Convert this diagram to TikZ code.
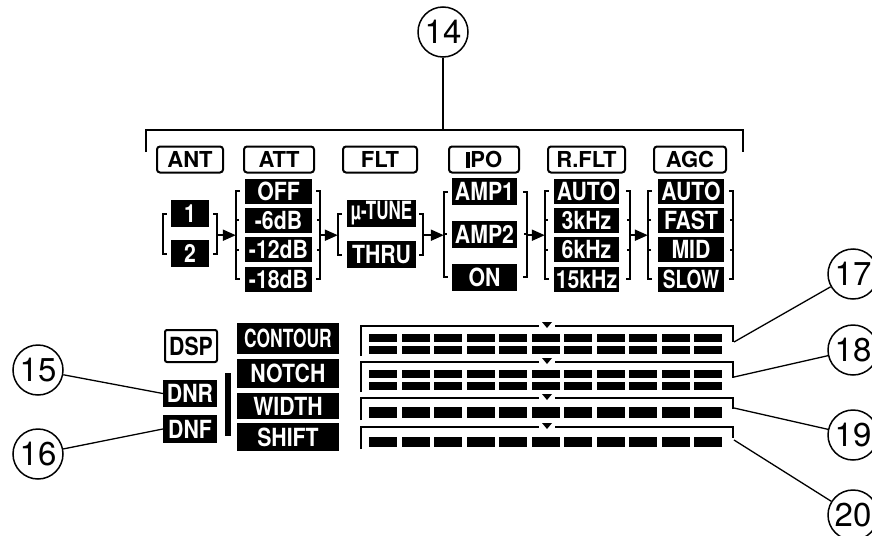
\documentclass[tikz,border=0pt]{standalone}
\usepackage{fontspec}
\usepackage{graphicx}
\newfontfamily\lcdfont[FakeStretch=0.85]{TeX Gyre Heros}
\newfontfamily\tagfont{TeX Gyre Heros}
\newcommand{\sqz}[2]{\scalebox{#1}[1]{#2}}
\usetikzlibrary{arrows.meta, positioning, calc}

\begin{document}
\begin{tikzpicture}[
  x=1pt, y=-1pt,
  lit/.style={fill=black, text=white, inner sep=0pt, minimum height=25pt,
              font=\lcdfont\bfseries\fontsize{25}{25}\selectfont},
  head/.style={draw, line width=2pt, rounded corners=3pt, inner sep=0pt,
               minimum height=26pt, font=\tagfont\bfseries\fontsize{22}{22}\selectfont},
  num/.style={draw, circle, line width=1.5pt, minimum size=50pt, inner sep=0pt,
              font=\tagfont\fontsize{33}{33}\selectfont},
  lead/.style={line width=1.3pt},
  brk/.style={line width=2pt},
  arr/.style={-{Triangle[length=13pt, width=11pt]}, line width=2pt}
]
\useasboundingbox (0,0) rectangle (872,535);

\node[num] (n14) at (443,32) {14};
\coordinate (g) at (443,130);
\coordinate (gl) at (146,152);
\coordinate (gr) at (743,152);
\draw[brk] (gl) |- (gr |- g) -- (gr);
\draw[lead] (n14) -- (g);

\node[head, minimum width=66pt] (ant) at (190,159.5) {ANT};
\node[head, minimum width=70pt] (att) at (279,159.5) {ATT};
\node[head, minimum width=74pt] (flt) at (380,159.5) {FLT};
\node[head, minimum width=70pt] (ipo) at (484,159.5) {\rule{4.5pt}{16pt}PO};
\node[head, minimum width=77pt] (rflt) at (586.5,159.5) {R.FLT};
\node[head, minimum width=72pt] (agc) at (690,159.5) {AGC};

\node[lit, minimum width=38pt, minimum height=27pt] (one) at (190,213.5) {1};
\node[lit, minimum width=38pt, minimum height=27pt, below=13pt of one] (two) {2};

\node[lit, minimum width=67pt] (off) at (278.5,191) {OFF};
\node[lit, minimum width=67pt, below=4pt of off] (m6) {-6dB};
\node[lit, minimum width=67pt, below=4pt of m6] (m12) {-12dB};
\node[lit, minimum width=67pt, below=4pt of m12] (m18) {-18dB};

\node[lit, minimum width=69pt, minimum height=27pt] (tune) at (381.5,213.5) {\sqz{0.8}{µ-TUNE}};
\node[lit, minimum width=69pt, minimum height=27pt, below=14pt of tune] (thru) {THRU};

\node[lit, minimum width=65pt, minimum height=27pt] (amp1) at (484.5,191.5) {AMP1};
\node[lit, minimum width=65pt, minimum height=27pt, below=15.5pt of amp1] (amp2) {AMP2};
\node[lit, minimum width=65pt, minimum height=27pt, below=15.5pt of amp2] (on) {ON};

\node[lit, minimum width=65pt] (rauto) at (586.5,191) {AUTO};
\node[lit, minimum width=65pt, below=4pt of rauto] (k3) {3kHz};
\node[lit, minimum width=65pt, below=4pt of k3] (k6) {6kHz};
\node[lit, minimum width=65pt, below=4pt of k6] (k15) {15kHz};

\node[lit, minimum width=66pt] (gauto) at (691,191) {AUTO};
\node[lit, minimum width=66pt, below=4pt of gauto] (fast) {FAST};
\node[lit, minimum width=66pt, below=4pt of fast] (mid) {MID};
\node[lit, minimum width=66pt, below=4pt of mid] (slow) {\sqz{0.9}{SLOW}};

\draw[brk] ([xshift=-4pt]one.west) -- ++(-4,0) |- ([xshift=-4pt]two.west);
\draw[brk] ([xshift=4pt]one.east) -- ++(4,0) |- ([xshift=4pt]two.east);
\draw[brk] ([xshift=-5pt]off.west) -- ++(-4,0) |- ([xshift=-5pt]m18.west)
  ([xshift=-9pt]m6.west) -- ++(3,0) ([xshift=-9pt]m12.west) -- ++(3,0);
\draw[brk] ([xshift=4pt]off.east) -- ++(4,0) |- ([xshift=4pt]m18.east)
  ([xshift=8pt]m6.east) -- ++(-3,0) ([xshift=8pt]m12.east) -- ++(-3,0);
\draw[brk] ([xshift=-5pt]tune.west) -- ++(-4,0) |- ([xshift=-5pt]thru.west);
\draw[brk] ([xshift=3pt]tune.east) -- ++(4,0) |- ([xshift=3pt]thru.east);
\draw[brk] ([xshift=-4pt]amp1.west) -- ++(-4,0) |- ([xshift=-4pt]on.west)
  ([xshift=-8pt]amp2.west) -- ++(3,0);
\draw[brk] ([xshift=6pt]amp1.east) -- ++(4,0) |- ([xshift=6pt]on.east)
  ([xshift=10pt]amp2.east) -- ++(-3,0);
\draw[brk] ([xshift=-5pt]rauto.west) -- ++(-4,0) |- ([xshift=-5pt]k15.west)
  ([xshift=-9pt]k3.west) -- ++(3,0) ([xshift=-9pt]k6.west) -- ++(3,0);
\draw[brk] ([xshift=7pt]rauto.east) -- ++(4,0) |- ([xshift=7pt]k15.east)
  ([xshift=11pt]k3.east) -- ++(-3,0) ([xshift=11pt]k6.east) -- ++(-3,0);
\draw[brk] ([xshift=-6pt]gauto.west) -- ++(-4,0) |- ([xshift=-6pt]slow.west)
  ([xshift=-10pt]fast.west) -- ++(3,0) ([xshift=-10pt]mid.west) -- ++(3,0);
\draw[brk] ([xshift=5pt]gauto.east) -- ++(4,0) |- ([xshift=5pt]slow.east)
  ([xshift=9pt]fast.east) -- ++(-3,0) ([xshift=9pt]mid.east) -- ++(-3,0);

\coordinate (antR) at ($(one.east)!.5!(two.east)+(8,1.5)$);
\coordinate (attL) at ($(off.west)+(-9,0)$);
\coordinate (attR) at ($(off.east)+(8,0)$);
\coordinate (fltL) at ($(tune.west)+(-9,0)$);
\coordinate (fltR) at ($(tune.east)+(7,0)$);
\coordinate (ipoL) at ($(amp1.west)+(-8,0)$);
\coordinate (ipoR) at ($(amp1.east)+(10,0)$);
\coordinate (rfltL) at ($(rauto.west)+(-9,0)$);
\coordinate (rfltR) at ($(rauto.east)+(11,0)$);
\coordinate (agcL) at ($(gauto.west)+(-10,0)$);
\draw[arr] (antR) -- (antR -| attL);
\draw[arr] (attR |- antR) -- (antR -| fltL);
\draw[arr] (fltR |- antR) -- (antR -| ipoL);
\draw[arr] (ipoR |- antR) -- (antR -| rfltL);
\draw[arr] (rfltR |- antR) -- (antR -| agcL);

\node[head, minimum width=52pt, minimum height=32pt, rounded corners=2pt,
      font=\lcdfont\bfseries\fontsize{25}{25}\selectfont] (dsp) at (191,346) {DSP};
\node[lit, minimum width=54pt, minimum height=27pt] (dnr) at (190,393.5) {DNR};
\node[lit, minimum width=54pt, minimum height=28pt] (dnf) at (190,429) {DNF};
\node[fill=black, minimum width=6pt, minimum height=63pt, inner sep=0pt] (bar) at (228,404.5) {};
\node[lit, minimum width=102pt, minimum height=31pt] (cont) at (288,338.5) {\sqz{0.82}{CONTOUR}};
\node[lit, minimum width=102pt, minimum height=29pt] (notch) at (288,373.5) {NOTCH};
\node[lit, minimum width=102pt, minimum height=26pt] (width) at (288,406) {WIDTH};
\node[lit, minimum width=102pt, minimum height=28pt] (shift) at (288,437) {SHIFT};

\node[num] (n15) at (38,370) {15};
\node[num] (n16) at (38,454) {16};
\draw[lead] (n15) -- (dnr.west);
\draw[lead] (n16) -- (dnf.west);

\foreach \t/\b/\r in {326/356/342, 362/392/378, 398/420/409, 427/449/438} {
  \draw[line width=2pt] (361,\b) -- (361,\t) -- (539,\t);
  \draw[line width=2pt] (555,\t) -- (733,\t) -- (733,\r);
  \fill (542,\t-4) -- (552,\t-4) -- (547,\t+2) -- cycle;
}
\foreach \y/\h in {334/8, 346/8, 370/8, 382/8, 407/11, 437/10}
  \foreach \i in {0,...,10}
    \fill (369+32.5*\i,\y) rectangle ++(28,\h);

\coordinate (m17) at (734,342);
\coordinate (m18) at (734,377);
\coordinate (m19) at (734,408);
\coordinate (m20) at (734,440);
\node[num] (n17) at (853,274) {17};
\node[num] (n18) at (853,350) {18};
\node[num] (n19) at (853,435) {19};
\node[num] (n20) at (853,515) {20};
\draw[lead] (m17) -- (n17);
\draw[lead] (m18) -- (n18);
\draw[lead] (m19) -- (n19);
\draw[lead] (m20) -- (n20);
\end{tikzpicture}
\end{document}
